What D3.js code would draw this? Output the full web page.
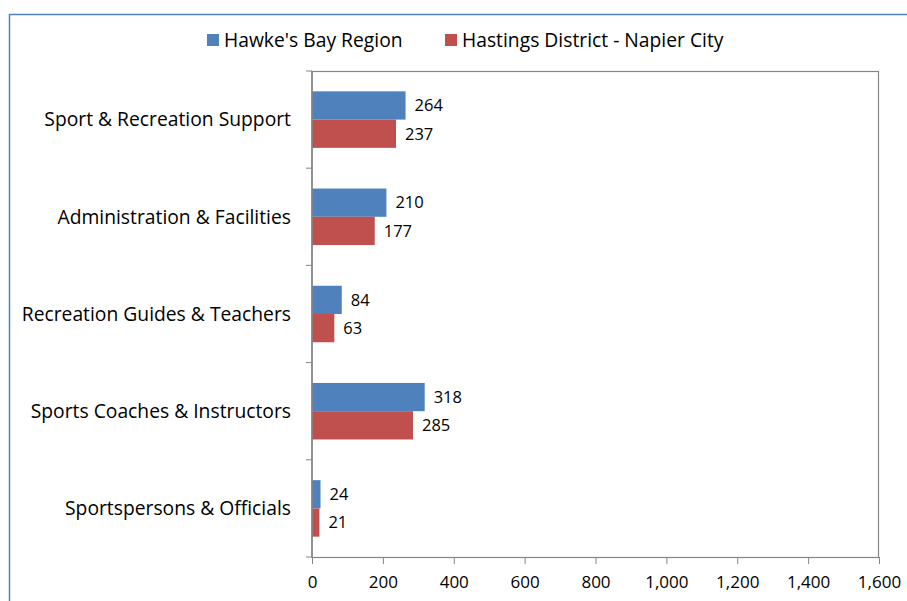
<!DOCTYPE html>
<html lang="en">
<head>
<meta charset="UTF-8">
<title>Sport occupations</title>
<script src="https://d3js.org/d3.v7.min.js"></script>
<style>
    body { margin: 0; background: #fff; }
    text { font-family: "Open Sans", sans-serif; fill: #000; }
</style>
</head>
<body>
<div id="chart"></div>
<script>
const categories = [
    "Sport & Recreation Support",
    "Administration & Facilities",
    "Recreation Guides & Teachers",
    "Sports Coaches & Instructors",
    "Sportspersons & Officials"
];
const seriesNames = ["Hawke's Bay Region", "Hastings District - Napier City"];
const hawkesBay = [264, 210, 84, 318, 24];
const hastingsNapier = [237, 177, 63, 285, 21];
const xTicks = [0, 200, 400, 600, 800, 1000, 1200, 1400, 1600];
const colors = ["#4F81BD", "#C0504D"];

const W = 907, H = 601;
const m = { left: 312, right: 28, top: 71, bottom: 44 };

const svg = d3.select("#chart").append("svg")
    .attr("width", W).attr("height", H);

// outer frame
svg.append("rect")
    .attr("x", 9.5).attr("y", 14.5)
    .attr("width", W + 20).attr("height", H + 20)
    .attr("fill", "none").attr("stroke", "#4F81BD").attr("stroke-width", 1.5);

const x = d3.scaleLinear().domain([0, 1600]).range([m.left, W - m.right]);
const y = d3.scaleBand().domain(categories).range([m.top, H - m.bottom]);
const inner = d3.scaleBand().domain(seriesNames)
    .range([0, y.bandwidth()]).paddingOuter(0.72).paddingInner(0);

// plot frame
svg.append("rect")
    .attr("x", m.left).attr("y", m.top + 0.5)
    .attr("width", x(1600) - m.left - 0.5).attr("height", y.range()[1] - m.top)
    .attr("fill", "none").attr("stroke", "#868686").attr("stroke-width", 1.2);

// bars
const series = [hawkesBay, hastingsNapier];
series.forEach((vals, si) => {
    const g = svg.append("g");
    g.selectAll("rect").data(vals).enter().append("rect")
        .attr("x", x(0))
        .attr("y", (d, i) => y(categories[i]) + inner(seriesNames[si]))
        .attr("width", d => x(d) - x(0))
        .attr("height", inner.bandwidth())
        .attr("fill", colors[si]);
    g.selectAll("text").data(vals).enter().append("text")
        .attr("x", d => x(d) + 9)
        .attr("y", (d, i) => y(categories[i]) + inner(seriesNames[si]) + inner.bandwidth() / 2)
        .attr("dy", "0.35em")
        .style("font-size", "16.5px")
        .text(d => d);
});

// x axis
const xAxis = svg.append("g")
    .attr("transform", `translate(0,${y.range()[1]})`)
    .call(d3.axisBottom(x).tickValues(xTicks).tickSize(7).tickPadding(12)
        .tickFormat(d3.format(",")));
xAxis.select(".domain").attr("stroke", "#868686");
xAxis.selectAll(".tick line").attr("stroke", "#868686");
xAxis.selectAll("text").style("font-size", "17px").style("font-family", "'Open Sans', sans-serif");

// y axis: ticks between categories
const yEdges = categories.map(c => y(c)).concat([y.range()[1]]);
svg.append("g").selectAll("line").data(yEdges).enter().append("line")
    .attr("x1", m.left - 6).attr("x2", m.left)
    .attr("y1", d => d).attr("y2", d => d)
    .attr("stroke", "#868686");
svg.append("line")
    .attr("x1", m.left).attr("x2", m.left)
    .attr("y1", m.top).attr("y2", y.range()[1])
    .attr("stroke", "#868686").attr("stroke-width", 1.5);

svg.append("g").selectAll("text").data(categories).enter().append("text")
    .attr("x", m.left - 21)
    .attr("y", d => y(d) + y.bandwidth() / 2)
    .attr("dy", "0.35em")
    .attr("text-anchor", "end")
    .style("font-size", "19.3px")
    .text(d => d);

// legend
const legend = svg.append("g");
const legendX = [207, 445];
seriesNames.forEach((name, i) => {
    legend.append("rect")
        .attr("x", legendX[i]).attr("y", 34)
        .attr("width", 12).attr("height", 12)
        .attr("fill", colors[i]);
    legend.append("text")
        .attr("x", legendX[i] + 17).attr("y", 40)
        .attr("dy", "0.35em")
        .style("font-size", "19.3px")
        .text(name);
});
</script>
</body>
</html>
